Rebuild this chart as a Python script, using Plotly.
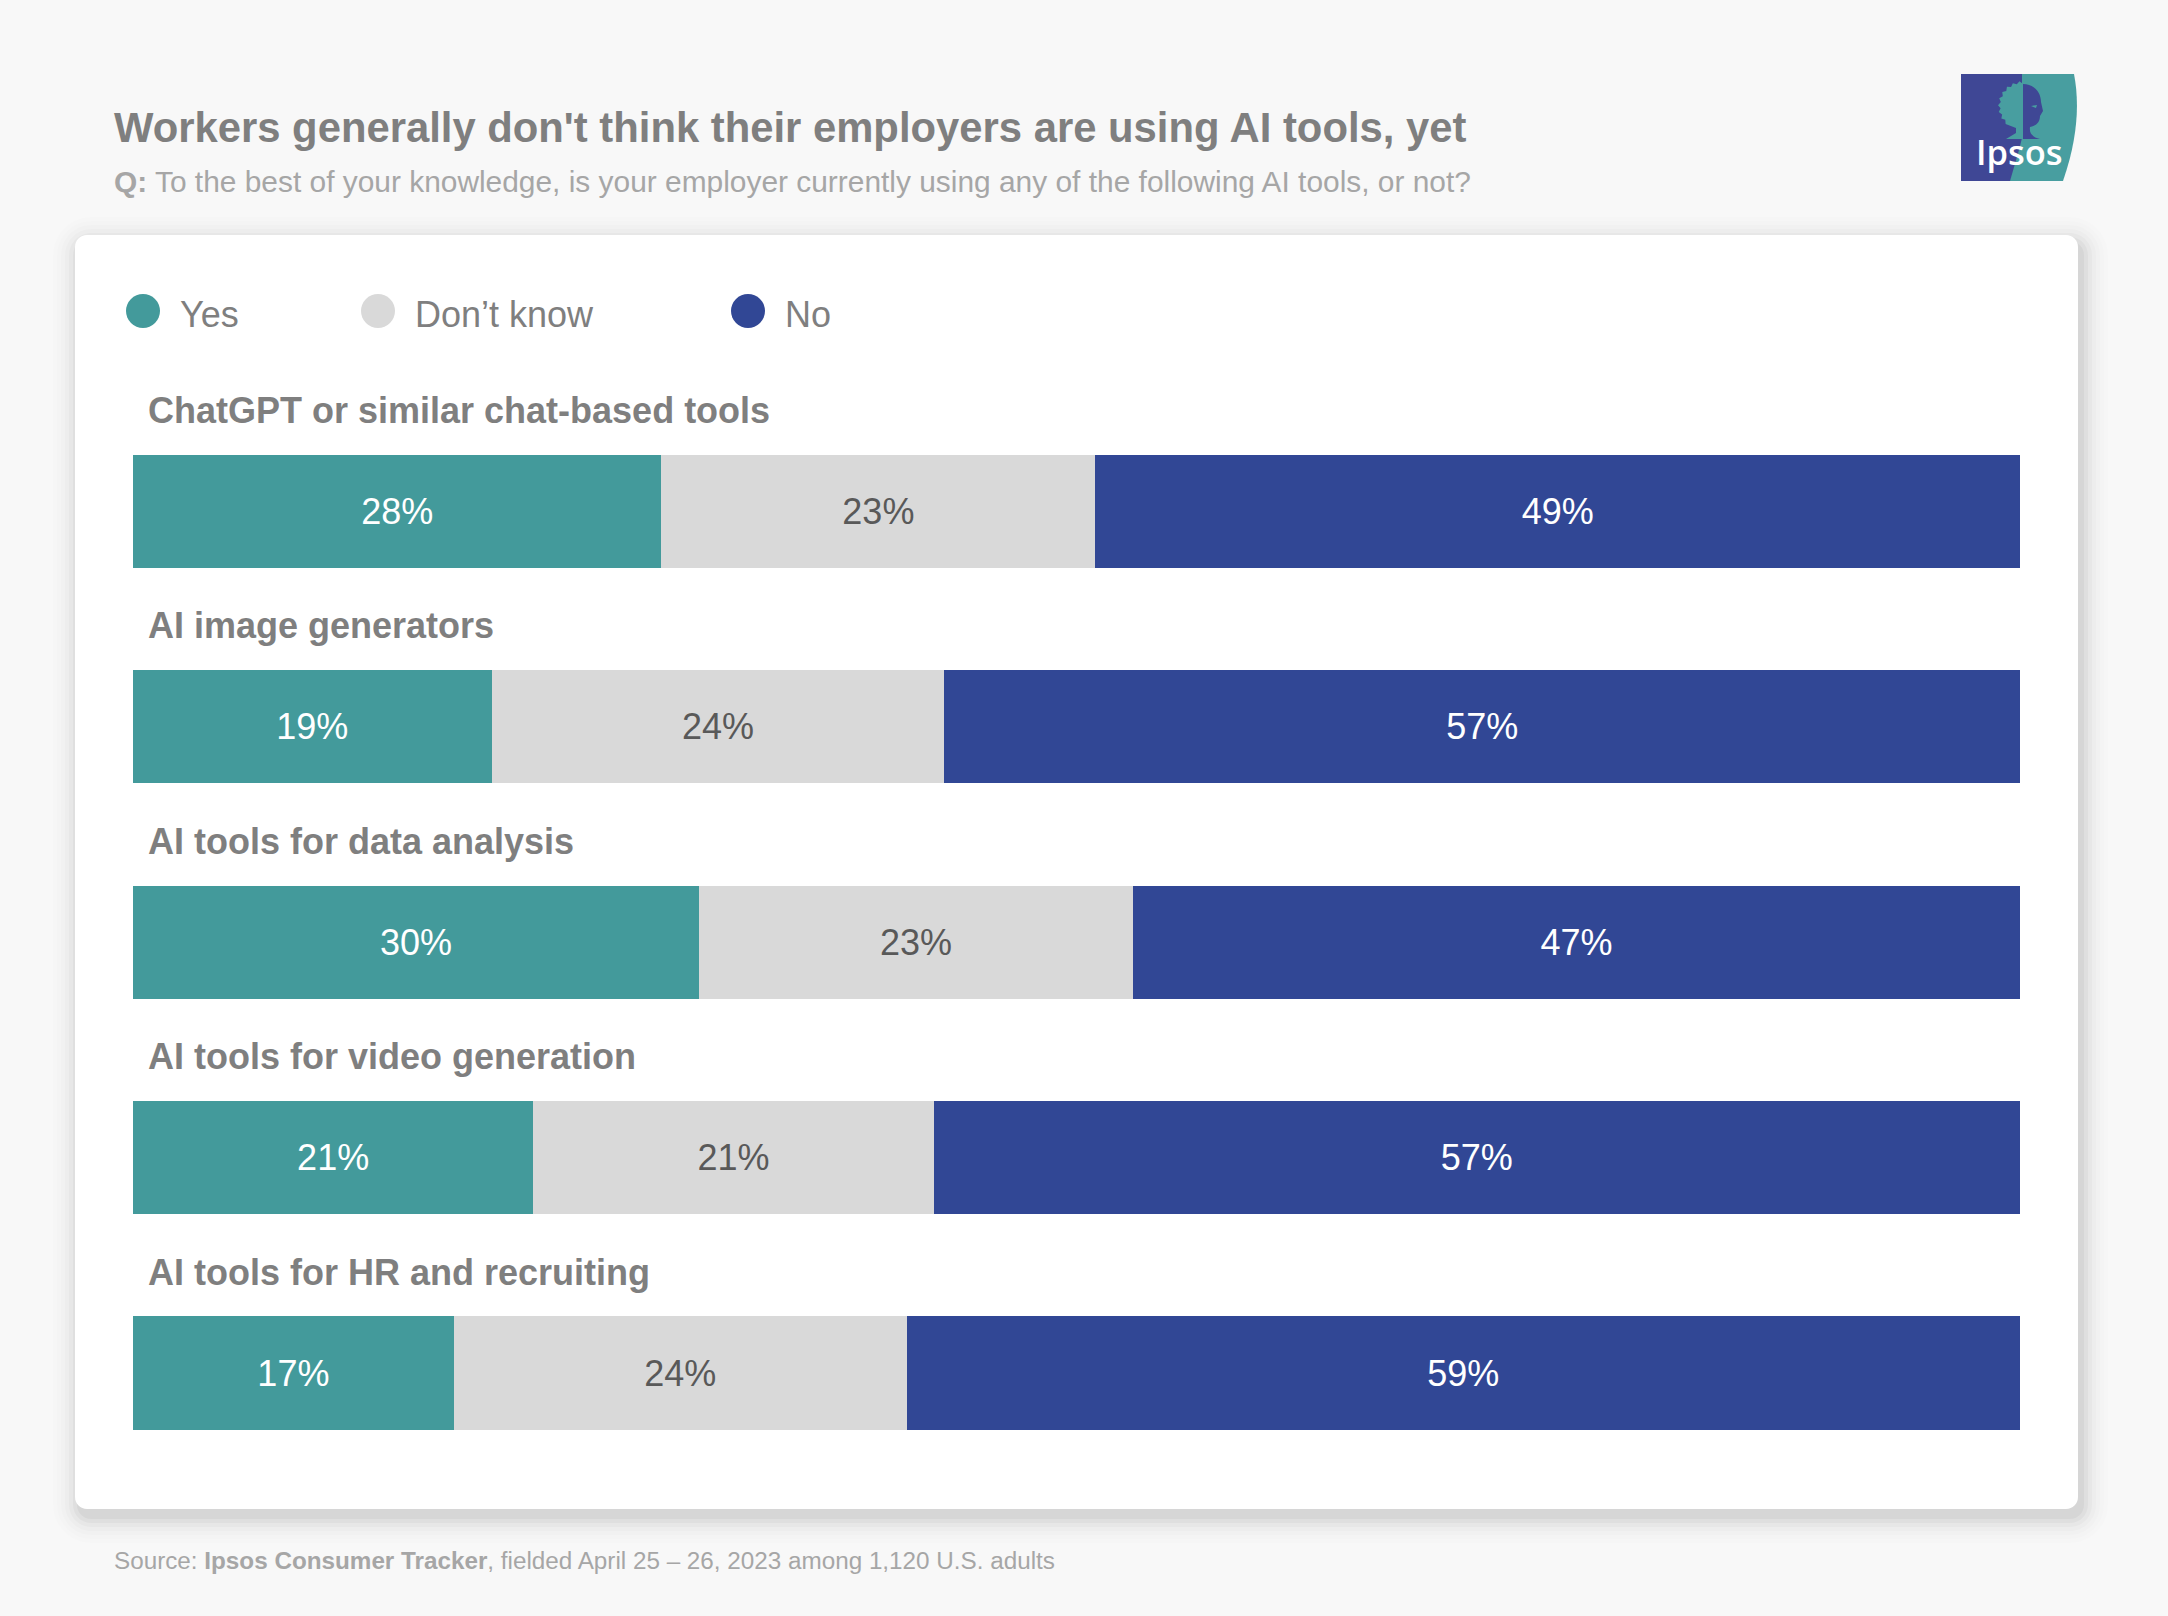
import math

import plotly.graph_objects as go

W, H = 2168, 1616

tools = ["ChatGPT or similar chat-based tools", "AI image generators", "AI tools for data analysis",
         "AI tools for video generation", "AI tools for HR and recruiting"]
yes = [28, 19, 30, 21, 17]
dont_know = [23, 24, 23, 21, 24]
no = [49, 57, 47, 57, 59]

series_names = ["Yes", "Don’t know", "No"]
series_values = [yes, dont_know, no]
series_colors = ["#439a9b", "#d9d9d9", "#314795"]
label_colors = ["#ffffff", "#595959", "#ffffff"]

FONT = "Liberation Sans"


def fx(x):
    return x / W


def fy(y):
    return 1 - y / H


def path(points, close=True):
    d = "M " + " L ".join(f"{fx(x)} {fy(y)}" for x, y in points)
    return d + (" Z" if close else "")


def round_rect(x0, y0, x1, y1, r):
    k = r * 0.45
    return (f"M {fx(x0 + r)} {fy(y0)} L {fx(x1 - r)} {fy(y0)} "
            f"C {fx(x1 - k)} {fy(y0)} {fx(x1)} {fy(y0 + k)} {fx(x1)} {fy(y0 + r)} "
            f"L {fx(x1)} {fy(y1 - r)} "
            f"C {fx(x1)} {fy(y1 - k)} {fx(x1 - k)} {fy(y1)} {fx(x1 - r)} {fy(y1)} "
            f"L {fx(x0 + r)} {fy(y1)} "
            f"C {fx(x0 + k)} {fy(y1)} {fx(x0)} {fy(y1 - k)} {fx(x0)} {fy(y1 - r)} "
            f"L {fx(x0)} {fy(y0 + r)} "
            f"C {fx(x0)} {fy(y0 + k)} {fx(x0 + k)} {fy(y0)} {fx(x0 + r)} {fy(y0)} Z")


fig = go.Figure()
for name, values, color, label_color in zip(series_names, series_values, series_colors, label_colors):
    fig.add_trace(go.Bar(
        name=name, y=tools, x=values, orientation="h",
        marker=dict(color=color, line=dict(width=0)),
        text=[f"{v}%" for v in values], textposition="inside", insidetextanchor="middle",
        textangle=0, constraintext="none",
        textfont=dict(family=FONT, size=36, color=label_color),
        showlegend=False,
    ))

shapes = []
# card shadow, then the white card
for grow, alpha in [(26, 0.006), (22, 0.009), (18, 0.012), (14, 0.016), (10, 0.022), (6, 0.03), (2, 0.04)]:
    shapes.append(dict(type="path", xref="paper", yref="paper", layer="below", line_width=0,
                       fillcolor=f"rgba(0,0,0,{alpha})",
                       path=round_rect(75 - grow + 4, 235 - grow + 8, 2078 + grow + 4, 1509 + grow + 8, 12 + grow)))
shapes.append(dict(type="path", xref="paper", yref="paper", layer="below", line_width=0,
                   fillcolor="#ffffff", path=round_rect(75, 235, 2078, 1509, 12)))

# legend dots
legend_dot_x = [143, 378, 748]
legend_text_x = [178, 413, 783]
for x, color in zip(legend_dot_x, series_colors):
    shapes.append(dict(type="circle", xref="paper", yref="paper", line_width=0, fillcolor=color,
                       x0=fx(x - 17), x1=fx(x + 17), y0=fy(311 + 17), y1=fy(311 - 17)))

# logo
LOGO_BLUE, LOGO_TEAL = "#3f4795", "#489ea0"
# leafy left half of the head: jagged edge round the crown
crown = [(2023, 84)]
for i in range(1, 18):
    a = math.radians(90 + i * 8)
    r = 25 if i % 2 else 22.5
    crown.append((2023 + r * math.cos(a), 106 - r * math.sin(a)))
crown += [(2016, 128), (2016, 133), (2006, 139), (2023, 139)]
logo_shapes = [
    (LOGO_TEAL, f"M {fx(1961)} {fy(74)} L {fx(2074)} {fy(74)} "
                f"C {fx(2079)} {fy(100)} {fx(2079)} {fy(135)} {fx(2063)} {fy(181)} "
                f"L {fx(1961)} {fy(181)} Z"),
    (LOGO_BLUE, path([(1961, 74), (2022, 74), (2022, 138), (2019, 150), (2010, 181), (1961, 181)])),
    (LOGO_TEAL, path(crown)),
    (LOGO_BLUE, f"M {fx(2023)} {fy(84)} C {fx(2034)} {fy(84)} {fx(2041)} {fy(92)} {fx(2041)} {fy(102)} "
                f"L {fx(2043)} {fy(111)} L {fx(2040)} {fy(116)} C {fx(2040)} {fy(124)} {fx(2034)} {fy(126)} {fx(2030)} {fy(127)} "
                f"C {fx(2029)} {fy(134)} {fx(2033)} {fy(137)} {fx(2040)} {fy(139)} L {fx(2023)} {fy(139)} Z"),
    (LOGO_TEAL, path([(2031, 106), (2037, 105), (2036, 108)])),
]
for color, d in logo_shapes:
    shapes.append(dict(type="path", xref="paper", yref="paper", line_width=0, fillcolor=color, path=d))


def note(text, x, y, size, color, family=FONT, weight=None):
    return dict(text=text, xref="paper", yref="paper", x=fx(x), y=fy(y), xanchor="left", yanchor="middle",
                showarrow=False, align="left", font=dict(family=family, size=size, color=color, weight=weight))


annotations = [
    note("<b>Workers generally don't think their employers are using AI tools, yet</b>", 112, 128, 41.8, "#7f7f7f"),
    note("<b>Q:</b> To the best of your knowledge, is your employer currently using any of the following AI tools, or not?",
         112, 182, 29.9, "#a6a6a6"),
    note("Source: <b>Ipsos Consumer Tracker</b>, fielded April 25 – 26, 2023 among 1,120 U.S. adults",
         112, 1560, 24.25, "#a6a6a6"),
    note("Ipsos", 1974, 151, 34.5, "#ffffff", family="Open Sans", weight=600),
]
for name, x in zip(series_names, legend_text_x):
    annotations.append(note(name, x, 314, 36, "#7f7f7f"))
for tool in tools:
    annotations.append(dict(text=f"<b>{tool}</b>", xref="paper", yref="y", x=fx(146), y=tool, yshift=101,
                            xanchor="left", yanchor="middle", showarrow=False,
                            font=dict(family=FONT, size=36, color="#7f7f7f")))

fig.update_layout(
    width=W, height=H, margin=dict(l=0, r=0, t=0, b=0),
    paper_bgcolor="#f8f8f8", plot_bgcolor="rgba(0,0,0,0)",
    barmode="stack", barnorm="percent", bargap=0.475,
    shapes=shapes, annotations=annotations, showlegend=False,
    font=dict(family=FONT),
    xaxis=dict(domain=[133 / W, 2020 / W], range=[0, 100], visible=False, fixedrange=True),
    yaxis=dict(domain=[1 - 1480.7 / H, 1 - 403.8 / H], autorange=False, range=[4.5, -0.5],
               visible=False, fixedrange=True, categoryorder="array", categoryarray=tools),
)

# the page's default body margin would push the figure off by 8px
fig.write_html("out.html", config={"displayModeBar": False},
               post_script="document.body.style.margin='0';document.body.style.overflow='hidden';")
